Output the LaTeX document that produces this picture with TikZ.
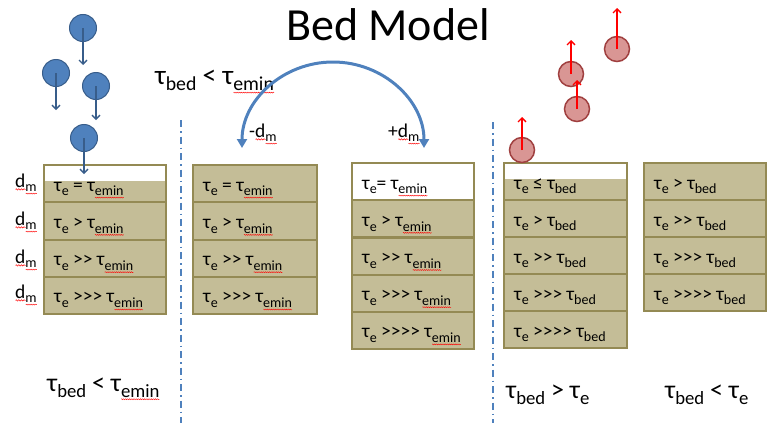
\documentclass[tikz,border=0pt]{standalone}
\usepackage{fontspec}
\setmainfont{Carlito}[Ligatures=TeXOff]
\usepackage{graphicx}
\usetikzlibrary{arrows.meta,decorations.pathmorphing}
\definecolor{tanf}{HTML}{C4BD97}
\definecolor{olivec}{HTML}{948A54}
\definecolor{bfill}{HTML}{4F81BD}
\definecolor{bdark}{HTML}{385D8A}
\definecolor{rfill}{HTML}{D99694}
\definecolor{rdark}{HTML}{A04040}
\newsavebox\sqbox
\newlength\sqlen
\newcommand\sqw[1]{\leavevmode\sbox\sqbox{#1}\setlength\sqlen{\wd\sqbox}%
  \rlap{\raisebox{-2.4pt}{\tikz[x=1pt,y=1pt,baseline=0pt]\draw[red,line width=0.5pt,decorate,decoration={snake,amplitude=0.7pt,segment length=2.6pt}] (0,0) -- (\sqlen,0);}}%
  \usebox\sqbox}
\newcommand\lo[1]{\raisebox{-0.25em}{\scalebox{0.72}{#1}}}
\newcommand\te{τ\lo{e}}
\newcommand\temin{τ\lo{\sqw{emin}}}
\newcommand\tbed{τ\lo{bed}}
\newcommand\dm{\sqw{d}\lo{\sqw{m}}}
\newcommand\rowb[7][]{%
  \node[rowbox,#1,minimum width=#5pt,minimum height=#6pt] (#2) at (#3,#4) {};
  \node[txt] (#2t) at (#3+10,#4+26) {#7};}
\begin{document}
\begin{tikzpicture}[x=1pt,y=-1pt,
  rowbox/.style={draw=olivec,fill=tanf,line width=2.2pt,inner sep=0,outer sep=0,anchor=north west},
  wtop/.style={path picture={\fill[white] (path picture bounding box.north west) rectangle ([yshift=-#1]path picture bounding box.north east);}},
  wtop/.default=16pt,
  txt/.style={anchor=base west,inner sep=0,font=\fontsize{19.5}{22}\selectfont},
  lbl/.style={anchor=base west,inner sep=0,font=\fontsize{26}{30}\selectfont},
  bball/.style={circle,draw=bdark,fill=bfill,line width=1pt,minimum size=27pt,inner sep=0},
  rball/.style={circle,draw=rdark,fill=rfill,line width=1.5pt,minimum size=25pt,inner sep=0},
  barr/.style={draw=bdark,line width=1.3pt,-{Straight Barb[length=4pt,width=8pt]}},
  rarr/.style={draw=red,line width=1.3pt,-{Straight Barb[length=4pt,width=8pt]}},
  sepline/.style={draw=bfill,line width=1.5pt,dash pattern=on 7pt off 4pt on 1.5pt off 4pt},
  arcarr/.style={draw=bfill,line width=3pt,{Triangle[length=9pt,width=10pt]}-{Triangle[length=9pt,width=10pt]}},
]
\path[use as bounding box] (0,0) rectangle (767,423);
% title
\node[font=\fontsize{46}{50}\selectfont] (title) at (388,25) {Bed Model};
% separators
\coordinate (s1t) at (181,120); \coordinate (s1b) at (181,423);
\coordinate (s2t) at (493,122); \coordinate (s2b) at (493,423);
\draw[sepline] (s1t) -- (s1b);
\draw[sepline] (s2t) -- (s2b);
% column 1
\rowb[wtop=16pt]{c1a}{44}{165}{122}{37.3}{\te{} = \temin}
\rowb{c1b}{44}{202.3}{122}{37.3}{\te{} > \temin}
\rowb{c1c}{44}{239.6}{122}{37.3}{\te{} >> \temin}
\rowb{c1d}{44}{276.9}{122}{37.3}{\te{} >>> \temin}
% column 2
\rowb{c2a}{193}{165}{124}{37.3}{\te{} = \temin}
\rowb{c2b}{193}{202.3}{124}{37.3}{\te{} > \temin}
\rowb{c2c}{193}{239.6}{124}{37.3}{\te{} >> \temin}
\rowb{c2d}{193}{276.9}{124}{37.3}{\te{} >>> \temin}
% column 3
\rowb[fill=white]{c3a}{352}{163}{122}{37.2}{\te= \temin}
\rowb{c3b}{352}{200.2}{122}{37.2}{\te{} > \temin}
\rowb{c3c}{352}{237.4}{122}{37.2}{\te{} >> \temin}
\rowb{c3d}{352}{274.6}{122}{37.2}{\te{} >>> \temin}
\rowb{c3e}{352}{311.8}{122}{37.2}{\te{} >>>> \temin}
% column 4
\rowb[wtop=16pt]{c4a}{504}{163}{123}{37}{\te{} ≤ \tbed}
\rowb{c4b}{504}{200}{123}{37}{\te{} > \tbed}
\rowb{c4c}{504}{237}{123}{37}{\te{} >> \tbed}
\rowb{c4d}{504}{274}{123}{37}{\te{} >>> \tbed}
\rowb{c4e}{504}{311}{123}{37}{\te{} >>>> \tbed}
% column 5
\rowb{c5a}{644}{163}{122}{37}{\te{} > \tbed}
\rowb{c5b}{644}{200}{122}{37}{\te{} >> \tbed}
\rowb{c5c}{644}{237}{122}{37}{\te{} >>> \tbed}
\rowb{c5d}{644}{274}{122}{37}{\te{} >>>> \tbed}
% dm labels
\node[txt] (dm1) at (15,187) {\dm};
\node[txt] (dm2) at (15,225) {\dm};
\node[txt] (dm3) at (15,263) {\dm};
\node[txt] (dm4) at (15,298) {\dm};
% labels
\node[lbl,font=\fontsize{27.5}{30}\selectfont] (toplbl) at (155,84) {\tbed{} < \temin};
\node[lbl] (bl1) at (47,391) {\tbed{} < \temin};
\node[lbl] (bl2) at (506,398) {\tbed{} > \te};
\node[lbl] (bl3) at (665,398) {\tbed{} < \te};
% arc
\coordinate (aL) at (242,148); \coordinate (aR) at (424,148);
\draw[arcarr] (aL) arc[start angle=180,end angle=360,x radius=91,y radius=86];
\node[txt] (mdm) at (249,137) {-\dm};
\node[txt] (pdm) at (388,137) {+\dm};
% blue particles
\node[bball] (b1) at (83,28) {};
\node[bball] (b2) at (56,73) {};
\node[bball] (b3) at (96,86) {};
\node[bball] (b4) at (84,138) {};
\coordinate (b1e) at (83,65); \coordinate (b2e) at (56,110);
\coordinate (b3e) at (96,120); \coordinate (b4e) at (84,174);
\draw[barr] (b1.center) -- (b1e);
\draw[barr] (b2.center) -- (b2e);
\draw[barr] (b3.center) -- (b3e);
\draw[barr] (b4.center) -- (b4e);
% red particles
\node[rball] (rA) at (617,49) {};
\node[rball] (rB) at (571,74) {};
\node[rball] (rC) at (577,109) {};
\node[rball] (rD) at (522,150) {};
\coordinate (rAe) at (617,8); \coordinate (rBe) at (571,40);
\coordinate (rCe) at (577,80); \coordinate (rDe) at (522,117);
\draw[rarr] (rA.center) -- (rAe);
\draw[rarr] (rB.center) -- (rBe);
\draw[rarr] (rC.center) -- (rCe);
\draw[rarr] (rD.center) -- (rDe);
\end{tikzpicture}
\end{document}
